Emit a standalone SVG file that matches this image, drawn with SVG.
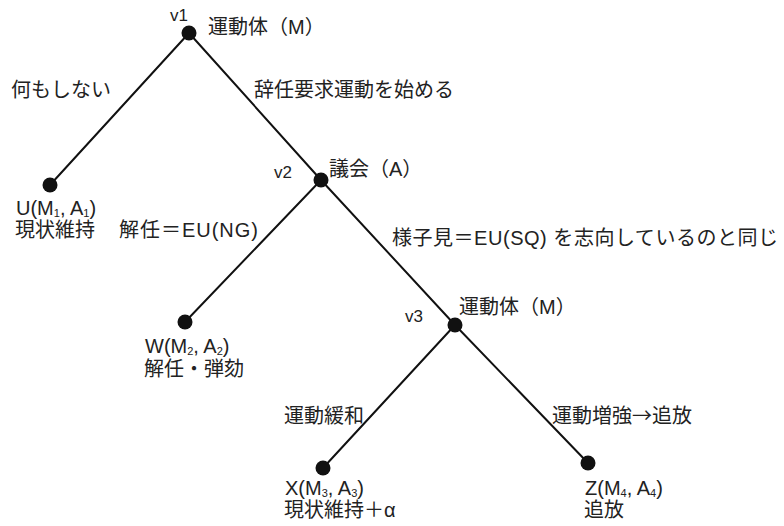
<svg xmlns="http://www.w3.org/2000/svg" width="784" height="526" viewBox="0 0 784 526">
  <style>
    .t { font-family: "Liberation Sans", "Noto Sans CJK JP", sans-serif; font-size: 20px; fill: #222; }
    .v { font-family: "Liberation Sans", "Noto Sans CJK JP", sans-serif; font-size: 17px; fill: #222; }
    .cjk { font-family: "Noto Sans CJK JP", sans-serif; }
    .sub { font-size: 11px; }
    .dot { fill: #111; }
    .edge { stroke: #111; stroke-width: 2; fill: none; stroke-linecap: round; }
  </style>
  <rect width="784" height="526" fill="#fff"/>
  <g id="connectors">
    <line class="edge" x1="189" y1="33" x2="50" y2="185"/>
    <line class="edge" x1="189" y1="33" x2="321" y2="180"/>
    <line class="edge" x1="321" y1="180" x2="185" y2="322"/>
    <line class="edge" x1="321" y1="180" x2="455" y2="325"/>
    <line class="edge" x1="455" y1="325" x2="323" y2="468"/>
    <line class="edge" x1="455" y1="325" x2="588" y2="463"/>
    <text class="t" x="11" y="97">何もしない</text>
    <text class="t" x="254" y="97">辞任要求運動を始める</text>
    <text class="t" x="119" y="237" textLength="139" lengthAdjust="spacing">解任＝EU(NG)</text>
    <text class="t" x="392" y="245" textLength="386" lengthAdjust="spacing">様子見＝EU(SQ) を志向しているのと同じ</text>
    <text class="t" x="284" y="423">運動緩和</text>
    <text class="t" x="552" y="423">運動増強<tspan class="cjk">→</tspan>追放</text>
  </g>
  <g id="v1">
    <circle class="dot" cx="189" cy="33" r="7.5"/>
    <text class="v" x="170" y="21" font-size="17">v1</text>
    <text class="t" x="208" y="34">運動体（M）</text>
  </g>
  <g id="v2">
    <circle class="dot" cx="321" cy="180" r="7.5"/>
    <text class="v" x="274" y="178" font-size="17">v2</text>
    <text class="t" x="329" y="176">議会（A）</text>
  </g>
  <g id="v3">
    <circle class="dot" cx="455" cy="325" r="7.5"/>
    <text class="v" x="405" y="322" font-size="17">v3</text>
    <text class="t" x="459" y="314">運動体（M）</text>
  </g>
  <g id="U">
    <circle class="dot" cx="50" cy="185" r="7.5"/>
    <text class="t" x="16" y="215">U(M<tspan class="sub" dy="2">1</tspan><tspan dy="-2">, A</tspan><tspan class="sub" dy="2">1</tspan><tspan dy="-2">)</tspan></text>
    <text class="t" x="15" y="237">現状維持</text>
  </g>
  <g id="W">
    <circle class="dot" cx="185" cy="322" r="7.5"/>
    <text class="t" x="145" y="353">W(M<tspan class="sub" dy="2">2</tspan><tspan dy="-2">, A</tspan><tspan class="sub" dy="2">2</tspan><tspan dy="-2">)</tspan></text>
    <text class="t" x="144" y="376">解任・弾劾</text>
  </g>
  <g id="X">
    <circle class="dot" cx="323" cy="468" r="7.5"/>
    <text class="t" x="285" y="495">X(M<tspan class="sub" dy="2">3</tspan><tspan dy="-2">, A</tspan><tspan class="sub" dy="2">3</tspan><tspan dy="-2">)</tspan></text>
    <text class="t" x="284" y="517">現状維持＋α</text>
  </g>
  <g id="Z">
    <circle class="dot" cx="588" cy="463" r="7.5"/>
    <text class="t" x="585" y="495">Z(M<tspan class="sub" dy="2">4</tspan><tspan dy="-2">, A</tspan><tspan class="sub" dy="2">4</tspan><tspan dy="-2">)</tspan></text>
    <text class="t" x="584" y="517">追放</text>
  </g>
</svg>
